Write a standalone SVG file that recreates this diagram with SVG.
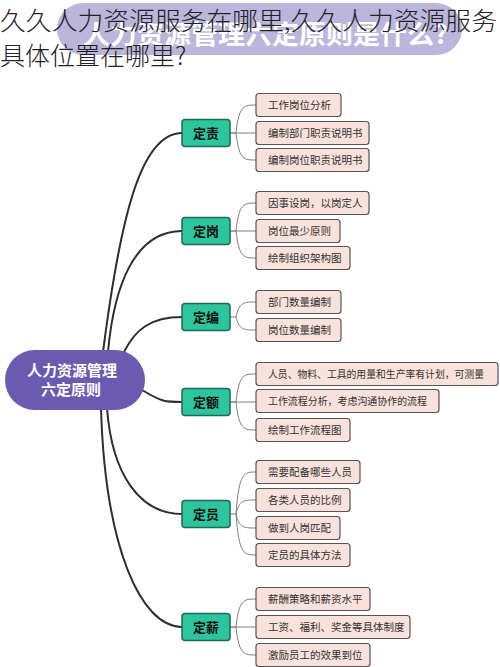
<svg xmlns="http://www.w3.org/2000/svg" width="500" height="667" viewBox="0 0 500 667">
<style>
.main{fill:none;stroke:#2e2e2e;stroke-width:2}
.sub{fill:none;stroke:#808080;stroke-width:1}
.grn{fill:#2cc59e;stroke:#1d6b57;stroke-width:1.5}
.gt{font-family:"Noto Sans CJK SC",sans-serif;font-size:13px;font-weight:bold;fill:#111;text-anchor:middle}
.leaf{fill:#f8e2db;stroke:#555;stroke-width:1.2}
.lt{font-family:"Noto Sans CJK SC",sans-serif;font-size:10.5px;fill:#333}
</style>
<rect width="500" height="667" fill="#fff"/>
<g id="banner">
<rect x="57" y="3" width="405" height="52" rx="26" fill="#bcb6dc"/>
<text x="83" y="44" font-family="Noto Sans CJK SC, sans-serif" font-size="26" font-weight="bold" fill="#ffffff" textLength="365" lengthAdjust="spacingAndGlyphs">人力资源管理六定原则是什么?</text>
</g>
<g id="heading" font-family="Noto Sans CJK SC, sans-serif" font-size="25" font-weight="300" fill="#222">
<text x="0" y="30" textLength="497" lengthAdjust="spacingAndGlyphs">久久人力资源服务在哪里,久久人力资源服务</text>
<text x="0" y="65">具体位置在哪里?</text>
</g>
<g id="connectors">
<path class="main" d="M103,352 C120,220 140,133 182,133"/>
<path class="main" d="M108,352 C114,285 135,231 182,231"/>
<path class="main" d="M124,352 C135,330 150,317 182,317"/>
<path class="main" d="M142,390 C162,402 165,402 182,402"/>
<path class="main" d="M107,408 C112,475 140,514 182,514"/>
<path class="main" d="M101,408 C105,545 140,627 182,627"/>
<path class="sub" d="M230,133 H236 C239,105 244,105 256,105"/>
<path class="sub" d="M230,133 H256"/>
<path class="sub" d="M236,133 C239,160 244,160 256,160"/>
<path class="sub" d="M230,231 H236 C239,203 244,203 256,203"/>
<path class="sub" d="M230,231 H256"/>
<path class="sub" d="M236,231 C239,258 244,258 256,258"/>
<path class="sub" d="M230,317 H236 C239,302 244,302 256,302"/>
<path class="sub" d="M236,317 C239,330 244,330 256,330"/>
<path class="sub" d="M230,402 H236 C239,374 244,374 256,374"/>
<path class="sub" d="M230,402 H256"/>
<path class="sub" d="M236,402 C239,430 244,430 256,430"/>
<path class="sub" d="M230,514 H236 C239,472 244,472 256,472"/>
<path class="sub" d="M236,514 C239,500 244,500 256,500"/>
<path class="sub" d="M236,514 C239,528 244,528 256,528"/>
<path class="sub" d="M236,514 C239,555 244,555 256,555"/>
<path class="sub" d="M230,627 H236 C239,599 244,599 256,599"/>
<path class="sub" d="M230,627 H256"/>
<path class="sub" d="M236,627 C239,655 244,655 256,655"/>
</g>
<g id="root">
<rect x="5" y="350" width="140" height="60" rx="30" fill="#6a5ab0"/>
<text x="72" y="376" font-family="Noto Sans CJK SC, sans-serif" font-size="15" font-weight="bold" fill="#fff" text-anchor="middle">人力资源管理</text>
<text x="71" y="395" font-family="Noto Sans CJK SC, sans-serif" font-size="15" font-weight="bold" fill="#fff" text-anchor="middle">六定原则</text>
</g>
<g id="n-dingze"><rect class="grn" x="182" y="119.5" width="48" height="27" rx="3"/><text class="gt" x="206" y="137.5">定责</text></g>
<g id="n-dinggang"><rect class="grn" x="182" y="217.5" width="48" height="27" rx="3"/><text class="gt" x="206" y="235.5">定岗</text></g>
<g id="n-dingbian"><rect class="grn" x="182" y="303.5" width="48" height="27" rx="3"/><text class="gt" x="206" y="321.5">定编</text></g>
<g id="n-dinge"><rect class="grn" x="182" y="388.5" width="48" height="27" rx="3"/><text class="gt" x="206" y="406.5">定额</text></g>
<g id="n-dingyuan"><rect class="grn" x="182" y="500.5" width="48" height="27" rx="3"/><text class="gt" x="206" y="518.5">定员</text></g>
<g id="n-dingxin"><rect class="grn" x="182" y="613.5" width="48" height="27" rx="3"/><text class="gt" x="206" y="631.5">定薪</text></g>
<g id="l1"><rect class="leaf" x="256" y="93.5" width="85" height="23" rx="3"/><text class="lt" x="268" y="109">工作岗位分析</text></g>
<g id="l2"><rect class="leaf" x="256" y="121.5" width="113" height="23" rx="3"/><text class="lt" x="268" y="137">编制部门职责说明书</text></g>
<g id="l3"><rect class="leaf" x="256" y="148.5" width="113" height="23" rx="3"/><text class="lt" x="268" y="164">编制岗位职责说明书</text></g>
<g id="l4"><rect class="leaf" x="256" y="191.5" width="113" height="23" rx="3"/><text class="lt" x="268" y="207">因事设岗，以岗定人</text></g>
<g id="l5"><rect class="leaf" x="256" y="219.5" width="84" height="23" rx="3"/><text class="lt" x="268" y="235">岗位最少原则</text></g>
<g id="l6"><rect class="leaf" x="256" y="246.5" width="94" height="23" rx="3"/><text class="lt" x="268" y="262">绘制组织架构图</text></g>
<g id="l7"><rect class="leaf" x="256" y="290.5" width="85" height="23" rx="3"/><text class="lt" x="268" y="306">部门数量编制</text></g>
<g id="l8"><rect class="leaf" x="256" y="318.5" width="85" height="23" rx="3"/><text class="lt" x="268" y="334">岗位数量编制</text></g>
<g id="l9"><rect class="leaf" x="256" y="362.5" width="242" height="23" rx="3"/><text class="lt" x="268" y="378" textLength="216" lengthAdjust="spacingAndGlyphs">人员、物料、工具的用量和生产率有计划，可测量</text></g>
<g id="l10"><rect class="leaf" x="256" y="389.5" width="183" height="23" rx="3"/><text class="lt" x="268" y="405" textLength="159" lengthAdjust="spacingAndGlyphs">工作流程分析，考虑沟通协作的流程</text></g>
<g id="l11"><rect class="leaf" x="256" y="418.5" width="94" height="23" rx="3"/><text class="lt" x="268" y="434">绘制工作流程图</text></g>
<g id="l12"><rect class="leaf" x="256" y="460.5" width="104" height="23" rx="3"/><text class="lt" x="268" y="476">需要配备哪些人员</text></g>
<g id="l13"><rect class="leaf" x="256" y="488.5" width="94" height="23" rx="3"/><text class="lt" x="268" y="504">各类人员的比例</text></g>
<g id="l14"><rect class="leaf" x="256" y="516.5" width="84" height="23" rx="3"/><text class="lt" x="268" y="532">做到人岗匹配</text></g>
<g id="l15"><rect class="leaf" x="256" y="543.5" width="94" height="23" rx="3"/><text class="lt" x="268" y="559">定员的具体方法</text></g>
<g id="l16"><rect class="leaf" x="256" y="587.5" width="114" height="23" rx="3"/><text class="lt" x="268" y="603">薪酬策略和薪资水平</text></g>
<g id="l17"><rect class="leaf" x="256" y="615.5" width="154" height="23" rx="3"/><text class="lt" x="268" y="631">工资、福利、奖金等具体制度</text></g>
<g id="l18"><rect class="leaf" x="256" y="643.5" width="114" height="23" rx="3"/><text class="lt" x="268" y="659">激励员工的效果到位</text></g>
</svg>
